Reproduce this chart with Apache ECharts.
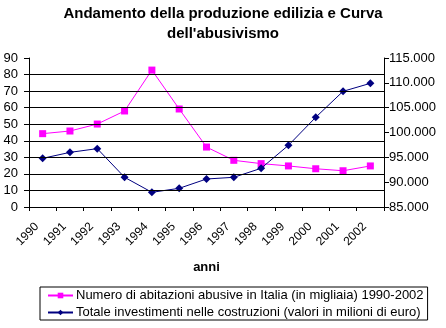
<!DOCTYPE html>
<html>
<head>
<meta charset="utf-8">
<script src="https://cdn.jsdelivr.net/npm/echarts@6/dist/echarts.min.js"></script>
<style>
  html, body { margin: 0; padding: 0; background: #fff; }
  #chart { width: 446px; height: 328px; }
</style>
</head>
<body>
<div id="chart"></div>
<script>
// Anni di riferimento
const years = ['1990', '1991', '1992', '1993', '1994', '1995', '1996',
               '1997', '1998', '1999', '2000', '2001', '2002'];

// Abitazioni abusive (migliaia)
const abusive = [44.3, 45.9, 50.1, 58.0, 82.7, 59.2, 36.2, 28.2, 26.2, 24.8, 23.1, 21.9, 24.8];

// Investimenti nelle costruzioni (milioni di euro)
const investimenti = [94800, 96000, 96750, 90980, 87960, 88760, 90640, 90980, 92790, 97420, 103060, 108290, 109900];

// Linee orizzontali della griglia (asse sinistro)
const gridValues = [10, 20, 30, 40, 50, 60, 70, 80];

const seriesNames = [
  'Numero di abitazioni abusive in Italia (in migliaia) 1990-2002',
  'Totale investimenti nelle costruzioni (valori in milioni di euro)'
];

const FONT = '"Liberation Sans", Arial, sans-serif';

const chart = echarts.init(document.getElementById('chart'), null, { renderer: 'canvas' });

chart.setOption({
  animation: false,
  backgroundColor: '#ffffff',
  textStyle: { fontFamily: FONT },
  title: {
    text: 'Andamento della produzione edilizia e Curva\ndell\'abusivismo',
    left: 'center',
    top: -1,
    textStyle: { fontFamily: FONT, fontSize: 15, fontWeight: 'bold', color: '#000', lineHeight: 20 }
  },
  grid: { left: 29, right: 62, top: 58, bottom: 121, containLabel: false },
  legend: {
    orient: 'vertical',
    left: 40,
    top: 287,
    padding: [2, 4, 1, 7],
    itemGap: 4,
    itemWidth: 25,
    itemHeight: 7,
    borderColor: '#000',
    borderWidth: 1,
    textStyle: { fontFamily: FONT, fontSize: 13, color: '#000', padding: [0, 0, 0, -2] },
    data: seriesNames
  },
  xAxis: {
    type: 'category',
    data: years,
    boundaryGap: true,
    name: 'anni',
    nameLocation: 'middle',
    nameGap: 54,
    nameTextStyle: { fontFamily: FONT, fontSize: 13, fontWeight: 'bold', color: '#000' },
    axisLine: { lineStyle: { color: '#000', width: 1 } },
    axisTick: { show: true, length: 4, alignWithLabel: false, lineStyle: { color: '#000' } },
    axisLabel: {
      rotate: 45, margin: 12, fontSize: 12, color: '#000', fontFamily: FONT, interval: 0,
      padding: [0, 8, 0, 0]
    },
    splitLine: { show: false }
  },
  yAxis: [
    {
      type: 'value',
      min: 0, max: 90, interval: 10,
      axisLine: { show: true, lineStyle: { color: '#000' } },
      axisTick: { show: true, length: 5, lineStyle: { color: '#000' } },
      axisLabel: { fontSize: 13, color: '#000', fontFamily: FONT, margin: 11 },
      splitLine: { show: false }
    },
    {
      type: 'value',
      min: 85000, max: 115000, interval: 5000,
      position: 'right',
      axisLine: { show: true, lineStyle: { color: '#000' } },
      axisTick: { show: true, length: 5, lineStyle: { color: '#000' } },
      axisLabel: {
        fontSize: 13, color: '#000', fontFamily: FONT, margin: 5,
        formatter: v => (v / 1000).toFixed(3)
      },
      splitLine: { show: false }
    }
  ],
  series: [
    {
      name: seriesNames[0],
      type: 'line',
      yAxisIndex: 0,
      data: abusive,
      symbol: 'rect',
      symbolSize: 7,
      itemStyle: { color: '#ff00ff' },
      lineStyle: { color: '#ff00ff', width: 1 },
      z: 3,
      markLine: {
        silent: true,
        symbol: 'none',
        label: { show: false },
        lineStyle: { color: '#000', width: 1, type: 'solid' },
        data: gridValues.map(v => ({ yAxis: v }))
      }
    },
    {
      name: seriesNames[1],
      type: 'line',
      yAxisIndex: 1,
      data: investimenti,
      symbol: 'diamond',
      symbolSize: 8,
      itemStyle: { color: '#000080' },
      lineStyle: { color: '#000080', width: 1 },
      z: 4
    }
  ]
});
</script>
</body>
</html>
